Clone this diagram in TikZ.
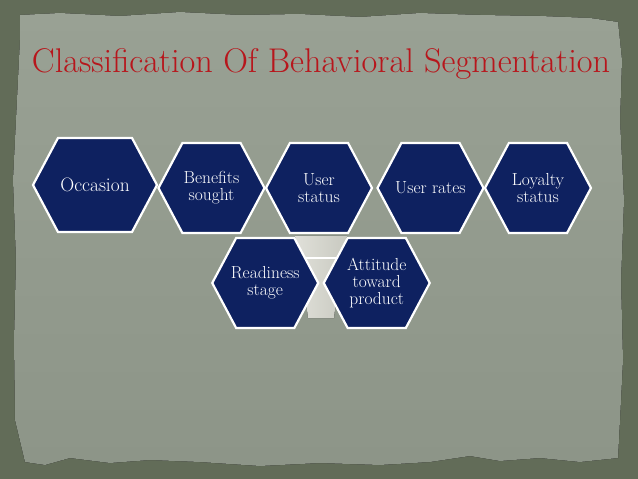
\documentclass[tikz,border=0pt]{standalone}
\usetikzlibrary{shapes,positioning,calc}
\definecolor{navy}{RGB}{14,33,96}
\definecolor{titlered}{RGB}{183,22,28}
\definecolor{paper}{RGB}{141,149,136}
\definecolor{paperlight}{RGB}{153,161,148}
\definecolor{frame}{RGB}{98,108,88}
\definecolor{funnel}{RGB}{224,224,217}
\definecolor{funneldark}{RGB}{200,201,192}
\tikzset{
  hexa/.style={signal, signal to=west and east, signal pointer angle=124, fill=navy, draw=white, line width=2.2bp, text=white, align=center, minimum width=106bp, minimum height=90bp, inner xsep=-14bp, inner ysep=2bp, font=\fontsize{17.5}{17}\selectfont},
  big/.style={minimum width=124bp, minimum height=94bp, font=\fontsize{19.5}{20}\selectfont}
}

\begin{document}
\begin{tikzpicture}[x=1bp,y=-1bp]
  % background and torn paper
  \fill[frame] (0,0) rectangle (638,479);
  \fill[top color=paperlight, bottom color=paper] (20,15) -- (60,13) -- (120,16) -- (180,12) -- (240,15) -- (300,14) -- (360,17) -- (420,13) -- (480,15) -- (540,16) -- (590,18) -- (618,22)
    -- (622,60) -- (620,120) -- (624,200) -- (621,280) -- (623,360) -- (620,420) -- (618,458)
    -- (580,462) -- (540,458) -- (500,461) -- (470,456) -- (430,462) -- (380,465) -- (320,463) -- (260,466) -- (200,462) -- (150,460) -- (110,463) -- (70,458) -- (45,465) -- (25,462)
    -- (15,420) -- (14,340) -- (16,260) -- (13,180) -- (17,100) -- (20,40) -- cycle;

  \node[text=titlered, font=\fontsize{34.4}{36}\selectfont, anchor=base] (T) at (321,73) {Classification Of Behavioral Segmentation};

  % funnel behind the lower row
  \fill[left color=funnel, right color=funneldark] (295,236) -- (347,236) -- (339,275) -- (334,318) -- (308,318) -- (303,275) -- cycle;
  \draw[white, line width=1.5bp] (300,258) -- (342,258);

  \node[hexa,big] (OC) at (95,185) {Occasion};
  \node[hexa] (BS) [right=-1bp of OC, yshift=-3bp] {Benefits\\sought};
  \node[hexa] (US) [right=-1bp of BS] {User\\status};
  \node[hexa] (UR) [right=3bp of US] {User rates};
  \node[hexa] (LS) [right=-1bp of UR] {Loyalty\\status};
  \node[hexa] (RS) at ($(BS)!0.5!(US)+(0,95)$) {Readiness\\stage};
  \node[hexa] (AT) [right=3bp of RS] {Attitude\\toward\\product};

\end{tikzpicture}
\end{document}
